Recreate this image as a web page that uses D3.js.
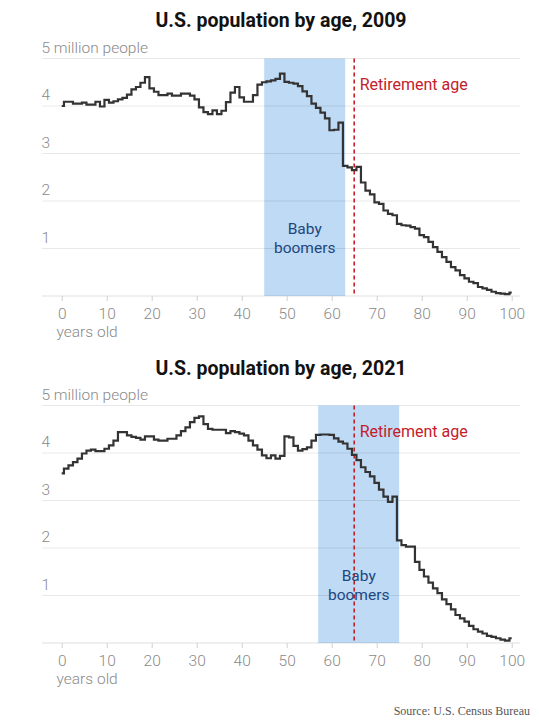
<!DOCTYPE html>
<html>
<head>
<meta charset="utf-8">
<script src="https://cdn.jsdelivr.net/npm/d3@7/dist/d3.min.js"></script>
<style>
  html, body { margin: 0; padding: 0; background: #fff; }
  svg { display: block; }
</style>
</head>
<body>
<svg id="chart" width="539" height="722"></svg>
<script>
// ---------------- DATA ----------------
const ages = d3.range(0, 101); // 0 .. 100 years old
const xTicks = [0, 10, 20, 30, 40, 50, 60, 70, 80, 90, 100];
const yTicks = [0, 1, 2, 3, 4, 5];
const yTickLabels = ["", "1", "2", "3", "4", "5 million people"];

// Population in millions, single year of age, 2009
const pop2009 = [
  4.00, 4.09, 4.09, 4.05, 4.05, 4.07, 4.03, 4.03, 4.09, 3.99,
  4.13, 4.07, 4.10, 4.14, 4.17, 4.24, 4.35, 4.40, 4.49, 4.61,
  4.37, 4.30, 4.23, 4.23, 4.26, 4.22, 4.22, 4.26, 4.26, 4.22,
  4.14, 3.97, 3.87, 3.83, 3.91, 3.83, 3.90, 4.08, 4.28, 4.40,
  4.18, 4.09, 4.09, 4.23, 4.45, 4.50, 4.52, 4.54, 4.57, 4.68,
  4.51, 4.49, 4.47, 4.42, 4.31, 4.21, 4.05, 3.96, 3.86, 3.74,
  3.49, 3.50, 3.65, 2.74, 2.71, 2.65, 2.72, 2.39, 2.22, 2.14,
  1.97, 1.94, 1.80, 1.73, 1.70, 1.52, 1.49, 1.48, 1.45, 1.42,
  1.28, 1.24, 1.14, 1.03, 0.93, 0.82, 0.72, 0.61, 0.54, 0.44,
  0.37, 0.30, 0.27, 0.19, 0.16, 0.13, 0.09, 0.06, 0.05, 0.04,
  0.07
];

// Population in millions, single year of age, 2021
const pop2021 = [
  3.57, 3.67, 3.74, 3.81, 3.88, 3.99, 4.05, 4.07, 4.04, 4.04,
  4.09, 4.16, 4.26, 4.44, 4.44, 4.37, 4.34, 4.32, 4.28, 4.35,
  4.35, 4.28, 4.26, 4.26, 4.30, 4.30, 4.37, 4.46, 4.54, 4.65,
  4.74, 4.77, 4.61, 4.51, 4.49, 4.49, 4.49, 4.42, 4.46, 4.44,
  4.41, 4.37, 4.26, 4.16, 4.07, 3.95, 3.89, 3.95, 3.88, 3.94,
  4.35, 4.33, 4.15, 4.05, 4.08, 4.12, 4.26, 4.38, 4.39, 4.39,
  4.38, 4.31, 4.24, 4.20, 4.09, 3.96, 3.85, 3.70, 3.60, 3.51,
  3.37, 3.23, 3.08, 2.97, 3.08, 2.16, 2.06, 2.03, 2.03, 1.71,
  1.54, 1.40, 1.27, 1.15, 1.05, 0.92, 0.82, 0.71, 0.59, 0.52,
  0.45, 0.36, 0.29, 0.24, 0.20, 0.15, 0.13, 0.10, 0.07, 0.05,
  0.10
];

const titles = ["U.S. population by age, 2009", "U.S. population by age, 2021"];
const boomerRanges = [[45, 63], [57, 75]];
const retirementAge = 65;
const sourceText = "Source: U.S. Census Bureau";

// ---------------- LAYOUT ----------------
const svg = d3.select("#chart");
const labelFont = "Roboto, 'Liberation Sans', sans-serif";
const grayText = "#8a8a8a";

const x = d3.scaleLinear().domain([0, 100]).range([61.7, 511.7]);

const panels = [
  { title: titles[0], values: pop2009, boom: boomerRanges[0], y0: 296, y5: 58.5, titleY: 27 },
  { title: titles[1], values: pop2021, boom: boomerRanges[1], y0: 643, y5: 405.5, titleY: 375 }
];

panels.forEach(p => {
  const y = d3.scaleLinear().domain([0, 5]).range([p.y0, p.y5]);
  const g = svg.append("g");

  // Title
  g.append("text")
    .attr("x", 281).attr("y", p.titleY)
    .attr("text-anchor", "middle")
    .attr("font-family", "'Roboto', 'Liberation Sans', sans-serif")
    .attr("font-weight", 700)
    .attr("font-size", 19.5)
    .attr("fill", "#121212")
    .text(p.title);

  // Baby boomer band
  g.append("rect")
    .attr("x", x(p.boom[0]))
    .attr("y", y(5))
    .attr("width", x(p.boom[1]) - x(p.boom[0]))
    .attr("height", y(0) - y(5))
    .attr("fill", "#bfdaf5");

  // Gridlines
  g.selectAll("line.grid").data(yTicks).join("line")
    .attr("class", "grid")
    .attr("x1", 42).attr("x2", 520)
    .attr("y1", d => y(d)).attr("y2", d => y(d))
    .attr("stroke", "#000")
    .attr("stroke-opacity", d => d === 0 ? 0.13 : 0.09)
    .attr("stroke-width", 1);

  // Y labels
  g.selectAll("text.ylab").data(yTicks.filter(d => d > 0)).join("text")
    .attr("class", "ylab")
    .attr("x", 41.5).attr("y", d => y(d) - 6)
    .attr("font-family", labelFont)
    .attr("font-weight", 300)
    .attr("font-size", 15.5)
    .attr("fill", grayText)
    .text(d => yTickLabels[d]);

  // X axis ticks + labels
  const xAxis = d3.axisBottom(x).tickValues(xTicks).tickSize(5).tickPadding(7);
  const ax = g.append("g").attr("transform", `translate(0,${p.y0})`).call(xAxis);
  ax.select(".domain").remove();
  ax.selectAll(".tick line").attr("stroke", "#d0d0d0");
  ax.selectAll(".tick text")
    .attr("font-family", labelFont)
    .attr("font-weight", 300)
    .attr("font-size", 15.5)
    .attr("fill", grayText);

  g.append("text")
    .attr("x", 56.5).attr("y", p.y0 + 41)
    .attr("font-family", labelFont)
    .attr("font-weight", 300)
    .attr("font-size", 15.5)
    .attr("fill", grayText)
    .text("years old");

  // Retirement line
  g.append("line")
    .attr("x1", x(retirementAge)).attr("x2", x(retirementAge))
    .attr("y1", y(5)).attr("y2", y(0))
    .attr("stroke", "#c4202a")
    .attr("stroke-width", 1.6)
    .attr("stroke-dasharray", "4,3");

  g.append("text")
    .attr("x", x(retirementAge) + 5.5).attr("y", p.y0 - 206.5)
    .attr("font-family", labelFont)
    .attr("font-size", 16)
    .attr("fill", "#c4202a")
    .text("Retirement age");

  // Baby boomers label
  const bx = (x(p.boom[0]) + x(p.boom[1])) / 2;
  g.append("text")
    .attr("x", bx).attr("y", p.y0 - 62)
    .attr("text-anchor", "middle")
    .attr("font-family", labelFont)
    .attr("font-size", 15.5)
    .attr("fill", "#1d477e")
    .text("Baby");
  g.append("text")
    .attr("x", bx).attr("y", p.y0 - 43)
    .attr("text-anchor", "middle")
    .attr("font-family", labelFont)
    .attr("font-size", 15.5)
    .attr("fill", "#1d477e")
    .text("boomers");

  // Step line
  const line = d3.line()
    .x((d, i) => x(ages[i]))
    .y(d => y(d))
    .curve(d3.curveStep);
  g.append("path")
    .datum(p.values)
    .attr("d", line)
    .attr("fill", "none")
    .attr("stroke", "#333")
    .attr("stroke-width", 2.2)
    .attr("stroke-linejoin", "miter");
});

// Source
svg.append("text")
  .attr("x", 530).attr("y", 715)
  .attr("text-anchor", "end")
  .attr("font-family", "'Liberation Serif', 'DejaVu Serif', serif")
  .attr("font-size", 12)
  .attr("fill", "#555")
  .text(sourceText);
</script>
</body>
</html>
